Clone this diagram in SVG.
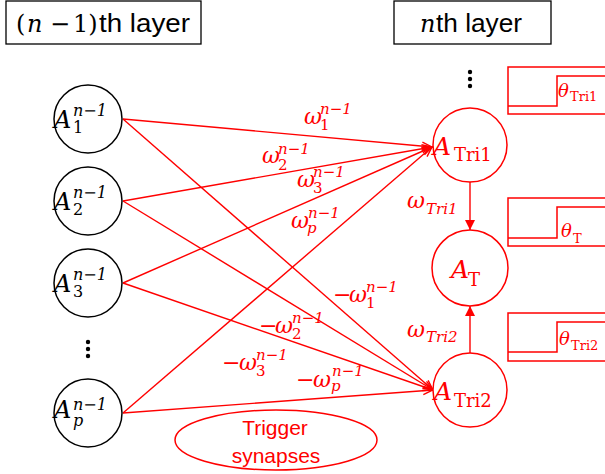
<svg xmlns="http://www.w3.org/2000/svg" width="605" height="474" viewBox="0 0 605 474">
<defs>
<style>
.box{fill:#fff;stroke:#000;stroke-width:1.3}
.nodeB{fill:#fff;stroke:#000;stroke-width:1.5}
.nodeR{fill:#fff;stroke:#f00;stroke-width:1.5}
.conn{stroke:#f00;stroke-width:1.4;fill:none}
.thr{fill:none;stroke:#f00;stroke-width:1.5}
.math{font-family:"DejaVu Serif","Liberation Serif",serif;font-style:italic}
.up{font-family:"DejaVu Serif","Liberation Serif",serif;font-style:normal}
.sans{font-family:"Liberation Sans","Noto Sans",sans-serif}
.blk{fill:#000}
.red{fill:#f00}
.big{font-size:24px}
.sm{font-size:16px}
.ws{font-size:15px}
.w{font-size:22px}
</style>
<marker id="open" markerUnits="userSpaceOnUse" markerWidth="14" markerHeight="12" refX="11" refY="5" orient="auto">
<path d="M1,1 L11,5 L1,9" fill="none" stroke="#f00" stroke-width="1.4"/>
</marker>
<marker id="fill" markerUnits="userSpaceOnUse" markerWidth="12" markerHeight="12" refX="10" refY="5" orient="auto">
<path d="M0,0 L10,5 L0,10 Z" fill="#f00"/>
</marker>
</defs>
<rect width="605" height="474" fill="#fff"/>

<g id="header-left">
<rect class="box" x="6" y="1" width="195" height="43"/>
<text y="32" class="blk" font-size="24"><tspan x="16" class="up">(</tspan><tspan x="27" class="math">n</tspan><tspan x="50" class="up">−</tspan><tspan x="73" class="up">1)</tspan><tspan x="99" class="sans" font-size="26" textLength="91" lengthAdjust="spacingAndGlyphs">th layer</tspan></text>
</g>
<g id="header-right">
<rect class="box" x="394" y="1" width="157" height="43"/>
<text y="32" class="blk" font-size="24"><tspan x="420" class="math">n</tspan><tspan x="436" class="sans" font-size="26" textLength="86" lengthAdjust="spacingAndGlyphs">th layer</tspan></text>
</g>

<g id="connectors">
<line class="conn" x1="123" y1="119" x2="432" y2="147" marker-end="url(#open)"/>
<line class="conn" x1="123" y1="201" x2="432" y2="147" marker-end="url(#open)"/>
<line class="conn" x1="123" y1="283" x2="432" y2="147" marker-end="url(#open)"/>
<line class="conn" x1="123" y1="413" x2="432" y2="147" marker-end="url(#open)"/>
<line class="conn" x1="123" y1="119" x2="433" y2="390" marker-end="url(#open)"/>
<line class="conn" x1="123" y1="201" x2="433" y2="390" marker-end="url(#open)"/>
<line class="conn" x1="123" y1="283" x2="433" y2="390" marker-end="url(#open)"/>
<line class="conn" x1="123" y1="413" x2="433" y2="390" marker-end="url(#open)"/>
<line class="conn" x1="470" y1="182" x2="470" y2="230" marker-end="url(#fill)"/>
<line class="conn" x1="470" y1="353" x2="470" y2="306" marker-end="url(#fill)"/>
</g>

<g id="weight-labels" class="red">
<text class="math"><tspan x="304" y="124" class="w">ω</tspan><tspan x="320" y="114" class="ws">n−1</tspan><tspan x="320" y="130" class="ws up">1</tspan></text>
<text class="math"><tspan x="262" y="163" class="w">ω</tspan><tspan x="278" y="154" class="ws">n−1</tspan><tspan x="278" y="170" class="ws up">2</tspan></text>
<text class="math"><tspan x="297" y="187" class="w">ω</tspan><tspan x="313" y="177" class="ws">n−1</tspan><tspan x="313" y="193" class="ws up">3</tspan></text>
<text class="math"><tspan x="291" y="228" class="w">ω</tspan><tspan x="308" y="218" class="ws">n−1</tspan><tspan x="307" y="233" class="ws">p</tspan></text>
<text class="math"><tspan x="333" y="302" class="w up">−</tspan><tspan x="349" y="302" class="w">ω</tspan><tspan x="366" y="292" class="ws">n−1</tspan><tspan x="366" y="308" class="ws up">1</tspan></text>
<text class="math"><tspan x="259" y="333" class="w up">−</tspan><tspan x="275" y="333" class="w">ω</tspan><tspan x="292" y="323" class="ws">n−1</tspan><tspan x="292" y="339" class="ws up">2</tspan></text>
<text class="math"><tspan x="222" y="370" class="w up">−</tspan><tspan x="239" y="370" class="w">ω</tspan><tspan x="256" y="360" class="ws">n−1</tspan><tspan x="256" y="376" class="ws up">3</tspan></text>
<text class="math"><tspan x="296" y="387" class="w up">−</tspan><tspan x="313" y="387" class="w">ω</tspan><tspan x="332" y="376" class="ws">n−1</tspan><tspan x="331" y="391" class="ws">p</tspan></text>
<text class="math"><tspan x="407" y="208" class="w">ω</tspan><tspan x="426" y="214" class="ws">Tri1</tspan></text>
<text class="math"><tspan x="407" y="337" class="w">ω</tspan><tspan x="426" y="342" class="ws">Tri2</tspan></text>
</g>

<g id="node-A1">
<circle class="nodeB" cx="88" cy="119" r="34"/>
<text class="blk math"><tspan x="54" y="128" class="big">A</tspan><tspan x="73" y="116" class="sm">n−1</tspan><tspan x="73" y="133" class="sm up">1</tspan></text>
</g>
<g id="node-A2">
<circle class="nodeB" cx="88" cy="201" r="34"/>
<text class="blk math"><tspan x="54" y="210" class="big">A</tspan><tspan x="73" y="198" class="sm">n−1</tspan><tspan x="73" y="215" class="sm up">2</tspan></text>
</g>
<g id="node-A3">
<circle class="nodeB" cx="88" cy="283" r="34"/>
<text class="blk math"><tspan x="54" y="292" class="big">A</tspan><tspan x="73" y="280" class="sm">n−1</tspan><tspan x="73" y="297" class="sm up">3</tspan></text>
</g>
<g id="dots-left" class="blk">
<circle cx="88" cy="342" r="2.2"/><circle cx="88" cy="349" r="2.2"/><circle cx="88" cy="356" r="2.2"/>
</g>
<g id="node-Ap">
<circle class="nodeB" cx="88" cy="413" r="34"/>
<text class="blk math"><tspan x="54" y="418" class="big">A</tspan><tspan x="73" y="410" class="sm">n−1</tspan><tspan x="73" y="426" class="sm">p</tspan></text>
</g>

<g id="dots-right" class="blk">
<circle cx="470" cy="72" r="2.2"/><circle cx="470" cy="79" r="2.2"/><circle cx="470" cy="86" r="2.2"/>
</g>
<g id="node-ATri1">
<circle class="nodeR" cx="470" cy="145" r="37"/>
<text class="red"><tspan x="433" y="155" class="math" font-size="25">A</tspan><tspan x="454" y="161" class="up" font-size="18">Tri1</tspan></text>
</g>
<g id="node-AT">
<circle class="nodeR" cx="470" cy="268" r="38"/>
<text class="red"><tspan x="451" y="278" class="math" font-size="25">A</tspan><tspan x="468" y="286" class="up" font-size="18">T</tspan></text>
</g>
<g id="node-ATri2">
<circle class="nodeR" cx="470" cy="390" r="37"/>
<text class="red"><tspan x="434" y="400" class="math" font-size="25">A</tspan><tspan x="454" y="407" class="up" font-size="18">Tri2</tspan></text>
</g>

<g id="threshold-Tri1">
<rect class="thr" x="508" y="67" width="120" height="47"/>
<polyline class="thr" points="508,106 557,106 557,76 610,76"/>
<text class="red"><tspan x="558" y="97" class="math" font-size="18">θ</tspan><tspan x="570" y="101" class="up" font-size="13">Tri1</tspan></text>
</g>
<g id="threshold-T">
<rect class="thr" x="508" y="198" width="120" height="48"/>
<polyline class="thr" points="508,238 557,238 557,207 610,207"/>
<text class="red"><tspan x="561" y="237" class="math" font-size="18">θ</tspan><tspan x="573" y="243" class="up" font-size="13">T</tspan></text>
</g>
<g id="threshold-Tri2">
<rect class="thr" x="508" y="313" width="120" height="48"/>
<polyline class="thr" points="508,352 557,352 557,322 610,322"/>
<text class="red"><tspan x="559" y="345" class="math" font-size="18">θ</tspan><tspan x="571" y="350" class="up" font-size="13">Tri2</tspan></text>
</g>

<g id="trigger-synapses">
<ellipse cx="276" cy="440" rx="101" ry="30" fill="none" stroke="#f00" stroke-width="1.5"/>
<text class="sans red" font-size="21" text-anchor="middle"><tspan x="275" y="435">Trigger</tspan><tspan x="276" y="463">synapses</tspan></text>
</g>
</svg>
